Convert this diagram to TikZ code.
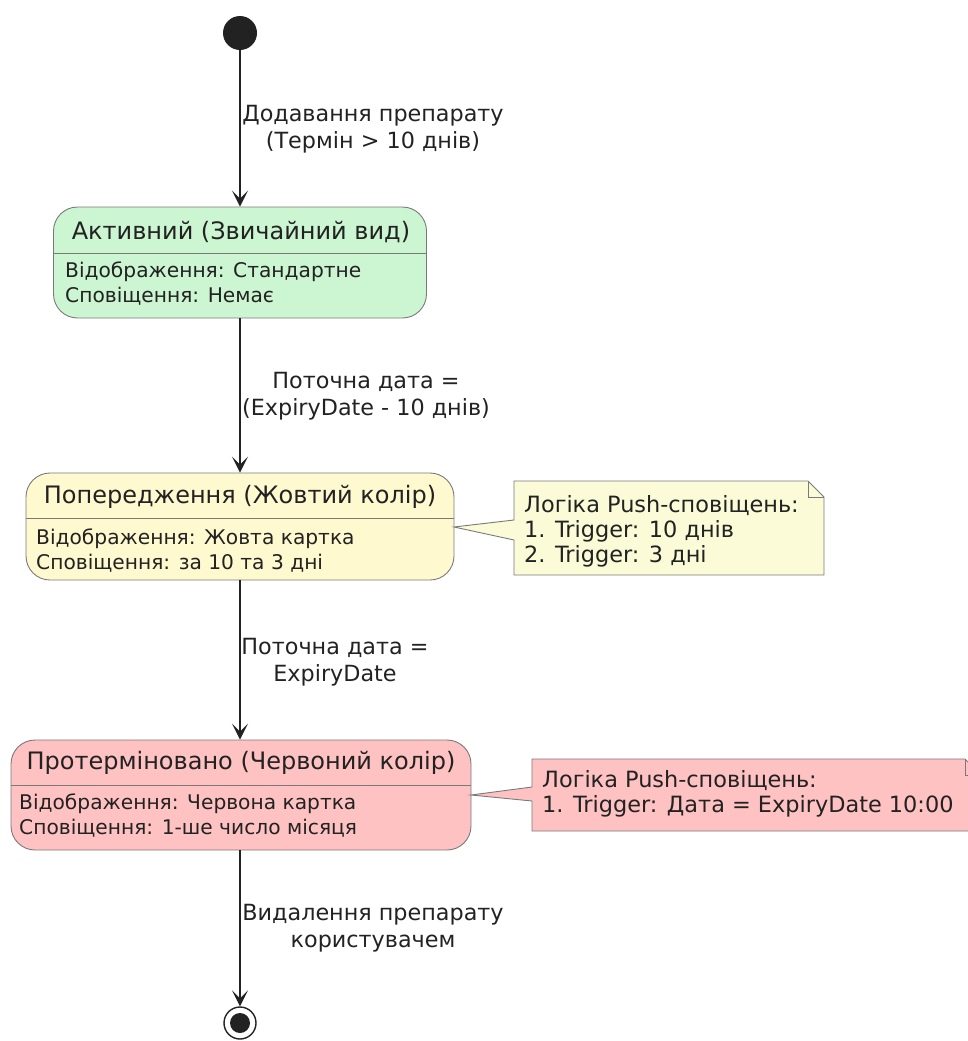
\documentclass[tikz,border=0pt]{standalone}
\usepackage{fontspec}
\setmainfont{DejaVu Sans}
\usetikzlibrary{arrows.meta}

\definecolor{stgreen}{HTML}{CCF5D2}
\definecolor{styellow}{HTML}{FFF9CF}
\definecolor{stred}{HTML}{FFC2C2}
\definecolor{noteyel}{HTML}{FBFBD7}
\definecolor{edgegray}{HTML}{7A7A7A}
\definecolor{ink}{HTML}{222222}

\begin{document}
\begin{tikzpicture}[x=1pt,y=-1pt,
  statebox/.style={draw=edgegray, line width=0.9pt, rounded corners=24pt, inner sep=0pt},
  titletext/.style={text=ink, font=\fontsize{24}{28}\selectfont},
  bodytext/.style={text=ink, font=\fontsize{20.2}{25}\selectfont, align=left, anchor=west, inner sep=0pt},
  edgelabel/.style={text=ink, font=\fontsize{22.3}{27}\selectfont, align=center, inner sep=0pt},
  notetext/.style={text=ink, font=\fontsize{22.4}{25}\selectfont, align=left, anchor=west, inner sep=0pt},
  noteshape/.style={draw=edgegray, line width=0.9pt},
  flow/.style={draw=ink, line width=1.3pt, -{Stealth[length=16pt, width=16pt, inset=8pt]}},
]
\useasboundingbox (0,0) rectangle (968,1041);
\clip (0,0) rectangle (968,1041);

% initial and final pseudo-states
\node[circle, fill=ink, minimum size=34pt, inner sep=0pt] (start) at (240,33) {};
\node[circle, draw=ink, line width=1.4pt, minimum size=32pt, inner sep=0pt] (stop) at (240,1023) {};
\fill[ink] (stop.center) circle (10pt);

% state: active
\node[statebox, fill=stgreen, minimum width=373pt, minimum height=111pt] (active) at (240,262.5) {};
\draw[edgegray, line width=0.9pt] (active.west |- 0,253) -- (active.east |- 0,253);
\node[titletext] (activeT) at (241,232) {Активний (Звичайний вид)};
\node[bodytext] (activeB) at (65,283.5) {Відображення: Стандартне\\Сповіщення: Немає};

% state: warning
\node[statebox, fill=styellow, minimum width=428pt, minimum height=107pt] (warn) at (240,526.5) {};
\draw[edgegray, line width=0.9pt] (warn.west |- 0,518) -- (warn.east |- 0,518);
\node[titletext] (warnT) at (240,497) {Попередження (Жовтий колір)};
\node[bodytext] (warnB) at (36,550.5) {Відображення: Жовта картка\\Сповіщення: за 10 та 3 дні};

% state: expired
\node[statebox, fill=stred, minimum width=460pt, minimum height=110pt] (expired) at (241,795) {};
\draw[edgegray, line width=0.9pt] (expired.west |- 0,785) -- (expired.east |- 0,785);
\node[titletext] (expiredT) at (241,763) {Протерміновано (Червоний колір)};
\node[bodytext] (expiredB) at (19,815.5) {Відображення: Червона картка\\Сповіщення: 1-ше число місяця};

% note attached to the warning state
\coordinate (n1tip) at (454,527);
\draw[noteshape, fill=noteyel]
  (514,481) -- (808,481) -- (824,497) -- (824,575) -- (514,575) -- (514,540)
  -- (n1tip) -- (514,520) -- cycle;
\draw[noteshape] (808,481) -- (808,497) -- (824,497);
\node[notetext] (note1) at (524,531) {Логіка Push-сповіщень:\\1. Trigger: 10 днів\\2. Trigger: 3 дні};

% note attached to the expired state
\coordinate (n2tip) at (471,795);
\draw[noteshape, fill=stred]
  (532,759) -- (965,759) -- (981,775) -- (981,831) -- (532,831) -- (532,801)
  -- (n2tip) -- (532,787) -- cycle;
\draw[noteshape] (965,759) -- (965,775) -- (981,775);
\node[notetext] (note2) at (542,794) {Логіка Push-сповіщень:\\1. Trigger: Дата = ExpiryDate 10:00};

% transitions
\draw[flow] (start) -- (start |- active.north);
\draw[flow] (start |- active.south) -- (start |- warn.north);
\draw[flow] (start |- warn.south) -- (start |- expired.north);
\draw[flow] (start |- expired.south) -- (stop.north);

% transition labels
\node[edgelabel] (l1) at (373,129.5) {Додавання препарату\\(Термін > 10 днів)};
\node[edgelabel] (l2) at (366,396) {Поточна дата =\\(ExpiryDate - 10 днів)};
\node[edgelabel] (l3) at (335,662.5) {Поточна дата =\\ExpiryDate};
\node[edgelabel] (l4) at (373,928.5) {Видалення препарату\\користувачем};
\end{tikzpicture}
\end{document}
